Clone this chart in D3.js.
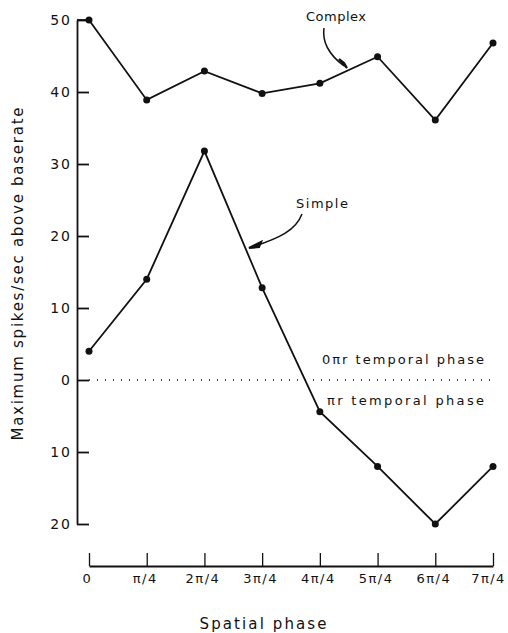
<!DOCTYPE html>
<html>
<head>
<meta charset="utf-8">
<script src="https://cdn.jsdelivr.net/npm/d3@7"></script>
<style>
body{margin:0;background:#fff;}
text{font-family:"DejaVu Sans",sans-serif;fill:#111;}
</style>
</head>
<body>
<svg id="chart" width="508" height="633"></svg>
<script>
// spatial phase categories, tick labels
const phases=["0","1","2","3","4","5","6","7"];
const phaseLabels=["0","\u03c0/4","2\u03c0/4","3\u03c0/4","4\u03c0/4","5\u03c0/4","6\u03c0/4","7\u03c0/4"];
// max spikes/sec above baserate (negative = pi temporal phase)
const complexVals=[50,38.9,42.9,39.8,41.2,44.9,36.1,46.8];
const simpleVals=[4,14,31.8,12.8,-4.4,-12,-20,-12];
const yTicks=[50,40,30,20,10,0,-10,-20];

const svg=d3.select("#chart");
const x=d3.scalePoint().domain(phases).range([89,493]);
const y=d3.scaleLinear().domain([-20,50]).range([524,20]);

// y axis, ticks pointing right
const ya=svg.append("g").attr("transform","translate(77,0)")
  .call(d3.axisLeft(y).tickValues(yTicks).tickSize(-12).tickSizeOuter(0).tickPadding(5).tickFormat(d=>Math.abs(d)));
ya.select(".domain").attr("stroke","#111").attr("stroke-width",1.8);
ya.selectAll(".tick line").attr("stroke","#111").attr("stroke-width",1.8);
ya.selectAll(".tick text").style("font-size","14px").style("letter-spacing","2px").attr("fill","#111");

// x axis, separate, ticks pointing up
const xa=svg.append("g").attr("transform","translate(0,566)")
  .call(d3.axisBottom(x).tickSize(-13).tickSizeOuter(0).tickPadding(8).tickFormat((d,i)=>phaseLabels[i]));
xa.select(".domain").attr("stroke","#111").attr("stroke-width",1.8);
xa.selectAll(".tick line").attr("stroke","#111").attr("stroke-width",1.3);
xa.selectAll(".tick text").style("font-size","13px").style("letter-spacing","1.5px").attr("dx",(d,i)=>i===7?-5:-2).attr("fill","#111");

// zero line dotted
svg.append("line").attr("x1",x("0")).attr("x2",x("7")).attr("y1",y(0)).attr("y2",y(0))
  .attr("stroke","#111").attr("stroke-width",1.3).attr("stroke-dasharray","1,7");

const line=d3.line().x((d,i)=>x(phases[i])).y(d=>y(d));
[complexVals,simpleVals].forEach(vals=>{
  svg.append("path").datum(vals).attr("d",line).attr("fill","none").attr("stroke","#111").attr("stroke-width",1.8);
  svg.selectAll(null).data(vals).enter().append("circle")
    .attr("cx",(d,i)=>x(phases[i])).attr("cy",d=>y(d)).attr("r",3.5).attr("fill","#111");
});
// join y axis top tick to first point
svg.append("line").attr("x1",77).attr("x2",x("0")).attr("y1",y(50)).attr("y2",y(50)).attr("stroke","#111").attr("stroke-width",1.8);

// annotations
svg.append("text").attr("x",336).attr("y",21).attr("text-anchor","middle").style("font-size","13px")
  .attr("textLength",60).attr("lengthAdjust","spacing").text("Complex");
svg.append("path").attr("d","M324,28 C322,42 328,54 344,66").attr("fill","none").attr("stroke","#111").attr("stroke-width",1.5);
svg.append("path").attr("d","M347,68 L339,59 L344,63 Z").attr("fill","#111").attr("stroke","#111").attr("stroke-width",2.2);

svg.append("text").attr("x",322).attr("y",208).attr("text-anchor","middle").style("font-size","13px")
  .attr("textLength",52).attr("lengthAdjust","spacing").text("Simple");
svg.append("path").attr("d","M302,214 C296,230 280,238 252,247").attr("fill","none").attr("stroke","#111").attr("stroke-width",1.5);
svg.append("path").attr("d","M249,248 L261,242 L259,247 Z").attr("fill","#111").attr("stroke","#111").attr("stroke-width",2.2);

svg.append("text").attr("x",322).attr("y",364).style("font-size","13px")
  .attr("textLength",162).attr("lengthAdjust","spacing").text("0\u03c0r  temporal phase");
svg.append("text").attr("x",327).attr("y",405).style("font-size","13px")
  .attr("textLength",157).attr("lengthAdjust","spacing").text("\u03c0r  temporal phase");

// axis titles
svg.append("text").attr("x",263).attr("y",629).attr("text-anchor","middle").style("font-size","15px")
  .attr("textLength",127).attr("lengthAdjust","spacing").text("Spatial  phase");
svg.append("text").attr("transform","translate(23,274) rotate(-90)").attr("text-anchor","middle").style("font-size","15px")
  .attr("textLength",333).attr("lengthAdjust","spacing").text("Maximum  spikes/sec  above  baserate");
</script>
</body>
</html>
